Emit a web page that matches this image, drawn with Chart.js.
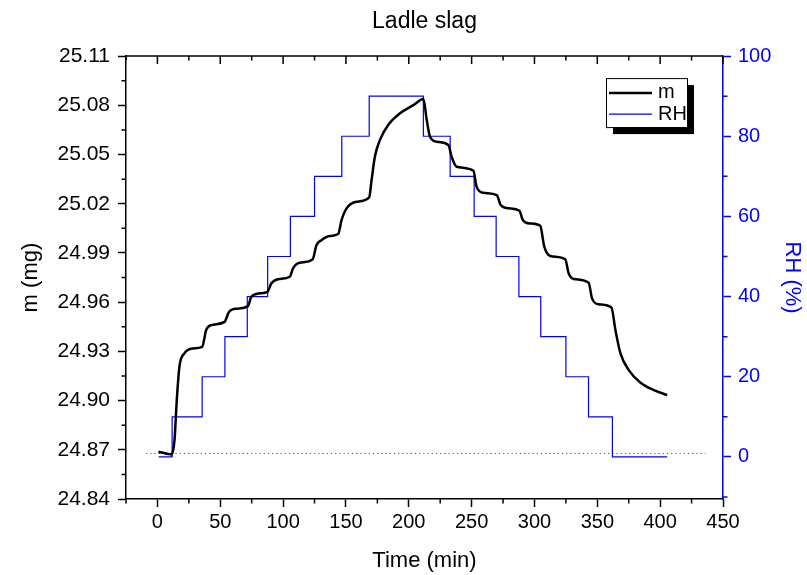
<!DOCTYPE html>
<html>
<head>
<meta charset="utf-8">
<script src="https://cdn.jsdelivr.net/npm/chart.js@4/dist/chart.umd.min.js"></script>
<style>
	html, body { margin: 0; padding: 0; background: #fff; }
</style>
</head>
<body>
<canvas id="chart" width="807" height="575"></canvas>
<script>
// mass curve (time in min, mass in mg)
const massTime = [0.8, 11.4, 13.6, 15.4, 17.5, 21.5, 28.2, 35.6, 38.8, 42.8, 53.4, 56.9, 62.8, 72, 74.7, 81.3, 87.5, 90.7, 96, 105.3, 107.9, 113.2, 123.4, 126.6, 130.5, 137, 143.8, 146.5, 150.5, 158.4, 168.5, 170.4, 173, 177, 183.6, 193, 203.6, 211.6, 214.3, 216.9, 222.2, 231.5, 234.1, 238.1, 251.4, 254, 259.3, 270, 273.1, 279.3, 288, 290.8, 296.6, 304.6, 307.8, 312.6, 324.5, 327.2, 331.2, 343.1, 345.8, 351.1, 361.2, 364.4, 368.4, 375, 384.4, 395, 405.6]
const massValues = [24.8688, 24.8672, 24.876, 24.9003, 24.9206, 24.9288, 24.9318, 24.9328, 24.943, 24.946, 24.948, 24.954, 24.956, 24.9576, 24.9633, 24.9654, 24.9663, 24.9715, 24.974, 24.9755, 24.9806, 24.984, 24.986, 24.9948, 24.9978, 25.0003, 25.0015, 25.010, 25.0172, 25.0212, 25.0239, 25.0344, 25.0486, 25.0588, 25.068, 25.0751, 25.0801, 25.0838, 25.071, 25.0608, 25.0578, 25.0558, 25.0486, 25.0425, 25.0401, 25.0303, 25.0267, 25.0253, 25.0192, 25.0172, 25.0157, 25.010, 25.008, 25.0066, 24.9938, 24.9881, 24.9861, 24.9776, 24.9741, 24.9718, 24.9623, 24.9587, 24.9568, 24.943, 24.9288, 24.9186, 24.9109, 24.9064, 24.9034]

// relative humidity steps (value starts at the given time)
const rhTime = [1, 11.7, 35.6, 53.7, 71.5, 87.7, 105.8, 125, 146.7, 168.5, 211.6, 232.9, 252, 269.5, 287.6, 305, 325, 343, 362, 405.6]
const rhValues = [0, 10, 20, 30, 40, 50, 60, 70, 80, 90, 80, 70, 60, 50, 40, 30, 20, 10, 0, 0]

// dotted reference line at the starting mass
const baselineTime = [-9, 436]
const baselineValue = [24.8678, 24.8678]

// ticks
const xTicks = [0, 50, 100, 150, 200, 250, 300, 350, 400, 450]
const xMinor = [-25, 25, 75, 125, 175, 225, 275, 325, 375, 425]
const mTicks = [24.84, 24.87, 24.90, 24.93, 24.96, 24.99, 25.02, 25.05, 25.08, 25.11]
const mMinor = [24.855, 24.885, 24.915, 24.945, 24.975, 25.005, 25.035, 25.065, 25.095]
const rhTicks = [0, 20, 40, 60, 80, 100]
const rhMinor = [-10, 10, 30, 50, 70, 90]

const blue = '#0000ff'
const fontFamily = "'Liberation Sans', Arial, sans-serif"
Chart.defaults.font.family = fontFamily

function points(xs, ys) {
	return xs.map(function (x, i) {
		return { x: x, y: ys[i] }
	})
}

function setTicks(list) {
	return function (scale) {
		scale.ticks = list.map(function (v) {
			return { value: v }
		})
	}
}

// top frame, inward top ticks, minor ticks and the shadowed legend box
const framePlugin = {
	id: 'frame',
	afterDraw(chart) {
		const ctx = chart.ctx
		const area = chart.chartArea
		const sx = chart.scales.x
		const sy = chart.scales.y
		const sy2 = chart.scales.y2
		ctx.save()
		ctx.lineWidth = 1.5
		ctx.strokeStyle = '#000'
		ctx.beginPath()
		ctx.moveTo(area.left, area.top)
		ctx.lineTo(area.right, area.top)
		for (let i = 0; i < xTicks.length; i++) {
			let px = sx.getPixelForValue(xTicks[i])
			ctx.moveTo(px, area.top)
			ctx.lineTo(px, area.top + 8)
		}
		for (let i = 0; i < xMinor.length; i++) {
			let px = sx.getPixelForValue(xMinor[i])
			ctx.moveTo(px, area.top)
			ctx.lineTo(px, area.top + 4.5)
			ctx.moveTo(px, area.bottom)
			ctx.lineTo(px, area.bottom + 4.5)
		}
		for (let i = 0; i < mMinor.length; i++) {
			let py = sy.getPixelForValue(mMinor[i])
			ctx.moveTo(area.left, py)
			ctx.lineTo(area.left - 4.5, py)
		}
		ctx.stroke()

		ctx.strokeStyle = blue
		ctx.beginPath()
		for (let i = 0; i < rhMinor.length; i++) {
			let py = sy2.getPixelForValue(rhMinor[i])
			ctx.moveTo(area.right, py)
			ctx.lineTo(area.right + 4.5, py)
		}
		ctx.stroke()

		// legend
		let bx = area.right - 117
		let by = area.top + 22
		let bw = 81
		let bh = 49
		ctx.fillStyle = '#000'
		ctx.fillRect(bx + 7, by + 7, bw, bh)
		ctx.fillStyle = '#fff'
		ctx.fillRect(bx, by, bw, bh)
		ctx.lineWidth = 1
		ctx.strokeStyle = '#000'
		ctx.strokeRect(bx + 0.5, by + 0.5, bw, bh)

		ctx.lineWidth = 2.5
		ctx.beginPath()
		ctx.moveTo(bx + 3, by + 15)
		ctx.lineTo(bx + 46, by + 15)
		ctx.stroke()
		ctx.lineWidth = 1.2
		ctx.strokeStyle = blue
		ctx.beginPath()
		ctx.moveTo(bx + 3, by + 36)
		ctx.lineTo(bx + 46, by + 36)
		ctx.stroke()

		ctx.fillStyle = '#000'
		ctx.font = '20px ' + fontFamily
		ctx.textBaseline = 'middle'
		ctx.textAlign = 'left'
		ctx.fillText('m', bx + 52, by + 14)
		ctx.fillText('RH', bx + 52, by + 36)
		ctx.restore()
	},
}

let canvas = document.getElementById('chart')

let chart = new Chart(canvas, {
	type: 'line',
	data: {
		datasets: [
			{
				label: 'm',
				data: points(massTime, massValues),
				yAxisID: 'y',
				borderColor: '#000',
				borderWidth: 2.5,
				pointRadius: 0,
				cubicInterpolationMode: 'monotone',
				fill: false,
			},
			{
				label: 'RH',
				data: points(rhTime, rhValues),
				yAxisID: 'y2',
				borderColor: blue,
				borderWidth: 1.2,
				pointRadius: 0,
				stepped: true,
				fill: false,
			},
			{
				label: 'baseline',
				data: points(baselineTime, baselineValue),
				yAxisID: 'y',
				borderColor: '#444',
				borderWidth: 1,
				borderDash: [1.2, 3],
				pointRadius: 0,
				fill: false,
			},
		],
	},
	options: {
		responsive: false,
		animation: false,
		devicePixelRatio: 1,
		layout: { padding: 0 },
		scales: {
			x: {
				type: 'linear',
				position: 'bottom',
				min: -25,
				max: 450,
				afterBuildTicks: setTicks(xTicks),
				afterFit: function (scale) {
					scale.height = 76
				},
				ticks: {
					color: '#000',
					font: { size: 20 },
					padding: 3,
					maxRotation: 0,
					autoSkip: false,
				},
				grid: {
					drawOnChartArea: false,
					drawTicks: true,
					tickLength: 8,
					tickColor: '#000',
					tickWidth: 1.5,
				},
				border: { color: '#000', width: 1.5 },
				title: {
					display: true,
					text: 'Time (min)',
					color: '#000',
					font: { size: 22 },
					padding: { top: 0, bottom: 1 },
				},
			},
			y: {
				type: 'linear',
				position: 'left',
				min: 24.84,
				max: 25.11,
				afterBuildTicks: setTicks(mTicks),
				afterFit: function (scale) {
					scale.width = 126
				},
				ticks: {
					color: '#000',
					font: { size: 21 },
					padding: 8,
					callback: function (v) {
						return v.toFixed(2)
					},
				},
				grid: {
					drawOnChartArea: false,
					drawTicks: true,
					tickLength: 8,
					tickColor: '#000',
					tickWidth: 1.5,
				},
				border: { color: '#000', width: 1.5 },
				title: {
					display: true,
					text: 'm (mg)',
					color: '#000',
					font: { size: 22 },
					padding: { top: 18, bottom: 0 },
				},
			},
			y2: {
				type: 'linear',
				position: 'right',
				min: -10.5,
				max: 100,
				afterBuildTicks: setTicks(rhTicks),
				afterFit: function (scale) {
					scale.width = 84
				},
				ticks: {
					color: blue,
					font: { size: 20 },
					padding: 7,
				},
				grid: {
					drawOnChartArea: false,
					drawTicks: true,
					tickLength: 8,
					tickColor: blue,
					tickWidth: 1.5,
				},
				border: { color: blue, width: 1.5 },
				title: {
					display: true,
					text: 'RH (%)',
					color: blue,
					font: { size: 22 },
					padding: { top: 2, bottom: 0 },
				},
			},
		},
		plugins: {
			legend: { display: false },
			tooltip: { enabled: false },
			title: {
				display: true,
				fullSize: false,
				text: 'Ladle slag',
				color: '#000',
				font: { size: 23, weight: 'normal' },
				padding: { top: 7.5, bottom: 21 },
			},
		},
	},
	plugins: [framePlugin],
})
</script>
</body>
</html>
